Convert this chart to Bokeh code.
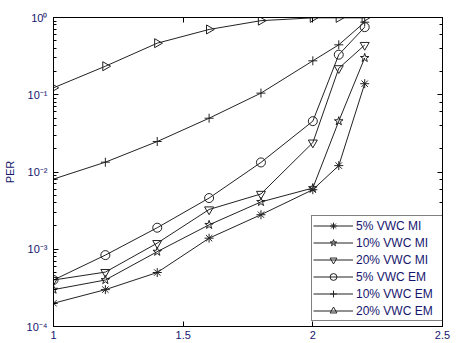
import math
from bokeh.plotting import figure
from bokeh.models import (Range1d, FixedTicker, LinearAxis, LogAxis, LogTicker,
                          CustomJSTickFormatter, Legend)
from bokeh.embed import file_html
from bokeh.resources import INLINE

# ---- data ----
x_vals = [1.0, 1.2, 1.4, 1.6, 1.8, 2.0, 2.1, 2.2]
mi_5 = [0.0002, 0.0003, 0.0005, 0.00139, 0.0028, 0.0059, 0.0121, 0.139]
mi_10 = [0.0003, 0.0004, 0.00093, 0.00207, 0.0041, 0.0062, 0.0455, 0.30]
mi_20 = [0.0004, 0.000506, 0.0012, 0.00327, 0.0052, 0.024, 0.22, 0.44]
em_5 = [0.0004, 0.00084, 0.0019, 0.0046, 0.0133, 0.0455, 0.33, 0.75]
em_10 = [0.0081, 0.0134, 0.0248, 0.0497, 0.105, 0.275, 0.443, 0.87]
em_20 = [0.123, 0.234, 0.465, 0.70, 0.91, 0.99, 0.99, 0.99]

series_labels = ["5% VWC MI", "10% VWC MI", "20% VWC MI",
                 "5% VWC EM", "10% VWC EM", "20% VWC EM"]
x_ticks = [1, 1.5, 2, 2.5]

TXT = "#16166e"
FONT = "Liberation Sans"

p = figure(width=457, height=343, x_axis_type="linear", y_axis_type="log",
           x_range=Range1d(1, 2.5), y_range=Range1d(1e-4, 1),
           output_backend="svg", toolbar_location=None,
           min_border_left=51, min_border_right=15, min_border_top=17,
           min_border_bottom=17)
p.grid.visible = False
p.outline_line_color = "black"
p.background_fill_color = "white"

sup = CustomJSTickFormatter(code="""
const e = Math.round(Math.log10(tick));
const m = {'-':'\u207b','0':'\u2070','1':'\u00b9','2':'\u00b2','3':'\u00b3','4':'\u2074'};
return '10' + String(e).split('').map(c => m[c]).join('');
""")

def style_axis(ax, labels=True):
    ax.major_tick_in = 5
    ax.major_tick_out = 0
    ax.minor_tick_in = 3
    ax.minor_tick_out = 0
    ax.axis_line_color = "black"
    ax.major_tick_line_color = "black"
    ax.minor_tick_line_color = "black"
    ax.major_label_text_font = FONT
    ax.major_label_text_font_size = "11px"
    ax.major_label_text_color = TXT
    ax.major_label_standoff = 4
    if not labels:
        ax.major_label_text_color = None
        ax.major_label_text_font_size = "1px"
        ax.major_label_standoff = 0

xt = FixedTicker(ticks=x_ticks, minor_ticks=[])
p.xaxis.ticker = xt
style_axis(p.xaxis[0])
p.yaxis.formatter = sup
style_axis(p.yaxis[0])
p.yaxis.major_label_standoff = 6
p.yaxis.axis_label = "PER"
p.yaxis.axis_label_text_font = FONT
p.yaxis.axis_label_text_font_size = "11px"
p.yaxis.axis_label_text_font_style = "normal"
p.yaxis.axis_label_text_color = TXT
p.yaxis.axis_label_standoff = 8

top = LinearAxis(ticker=FixedTicker(ticks=x_ticks, minor_ticks=[]))
style_axis(top, labels=False)
p.add_layout(top, "above")
right = LogAxis(ticker=LogTicker(), formatter=sup)
style_axis(right, labels=False)
p.add_layout(right, "right")

LC = "#222222"
specs = [
    (mi_5, "asterisk", 0),
    (mi_10, "star", 0),
    (mi_20, "inverted_triangle", 0),
    (em_5, "circle", 0),
    (em_10, "cross", 0),
    (em_20, "triangle", -math.pi / 2),
]
items = []
for (ys, mk, ang), lab in zip(specs, series_labels):
    r1 = p.line(x_vals, ys, line_color=LC, line_width=1)
    r2 = p.scatter(x_vals, ys, marker=mk, size=9, angle=ang,
                   line_color=LC, fill_alpha=0, line_width=1)
    items.append((lab, [r1, r2]))

legend = Legend(items=items, location=(258, 5))
legend.margin = 0
legend.border_line_color = "black"
legend.border_line_width = 1
legend.background_fill_color = "white"
legend.background_fill_alpha = 1
legend.label_text_font = FONT
legend.label_text_font_size = "12px"
legend.label_text_color = TXT
legend.glyph_width = 40
legend.glyph_height = 17
legend.label_height = 17
legend.label_width = 88
legend.spacing = 0
legend.padding = 1
legend.label_standoff = 3
p.add_layout(legend)

open("out.html", "w").write(file_html(p, INLINE))
